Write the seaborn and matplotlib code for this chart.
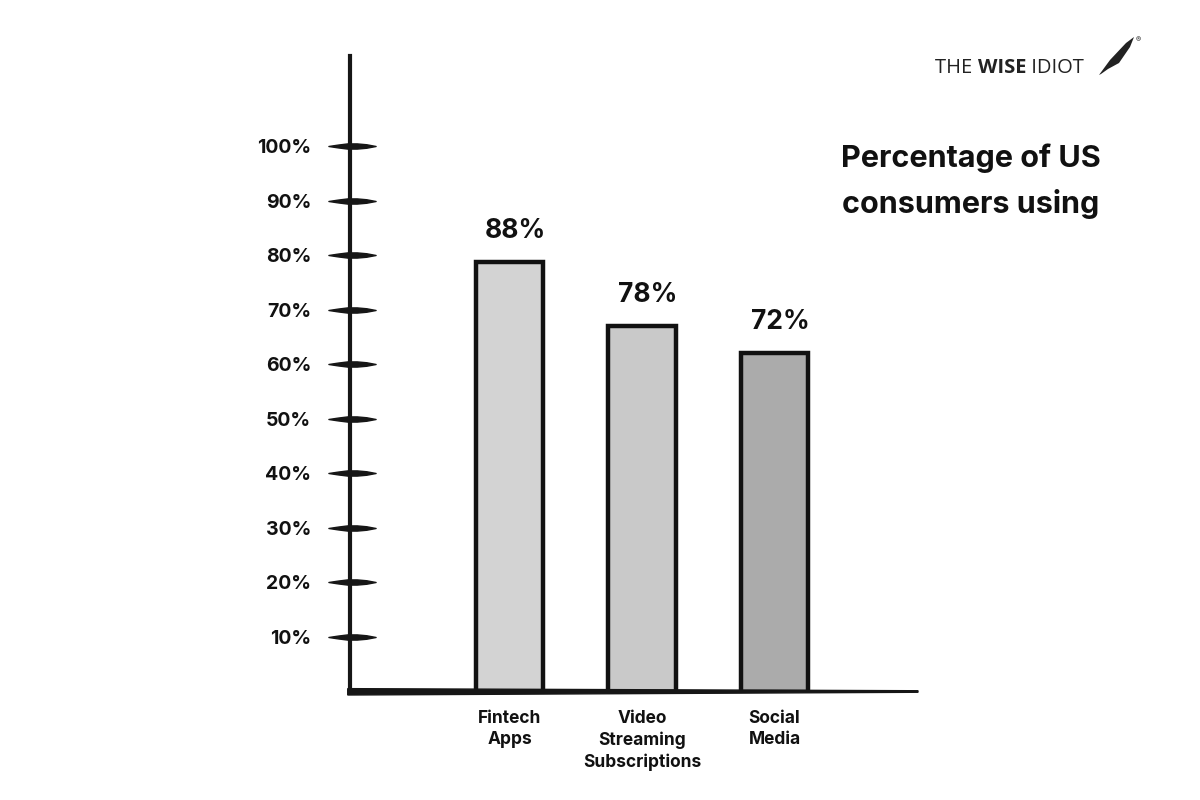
import numpy as np
import pandas as pd
import matplotlib
matplotlib.use("Agg")
import matplotlib.pyplot as plt
from matplotlib.path import Path
from matplotlib.patches import Polygon
import seaborn as sns

# ---- data ----
categories = ["Fintech\nApps", "Video\nStreaming\nSubscriptions", "Social\nMedia"]
bar_heights = [78.7, 67.0, 62.0]          # bar tops as drawn against the axis
value_labels = ["88%", "78%", "72%"]      # labels printed above the bars
bar_colors = ["#d3d3d3", "#c9c9c9", "#ababab"]
tick_values = [10, 20, 30, 40, 50, 60, 70, 80, 90, 100]
tick_labels = ["10%", "20%", "30%", "40%", "50%", "60%", "70%", "80%", "90%", "100%"]
title_text = "Percentage of US\nconsumers using"

sns.set_theme(style="white")
plt.rcParams["font.family"] = ["Inter", "DejaVu Sans"]

fig = plt.figure(figsize=(12, 8), dpi=100)
fig.patch.set_facecolor("white")
# axes: x from px 350 to 918, y 0% at px 691.5
ax = fig.add_axes([350 / 1200, 108.5 / 800, 568 / 1200, 635.5 / 800])
ax.set_facecolor("white")

df = pd.DataFrame({"cat": categories, "val": bar_heights})
sns.barplot(data=df, x="cat", y="val", hue="cat", palette=bar_colors,
            width=0.506, edgecolor="#111111", linewidth=3.2, legend=False,
            ax=ax, zorder=2)

ax.set_xlim(-1.204, 3.083)
ax.set_ylim(0, 116.5)
ax.set_xlabel("")
ax.set_ylabel("")

for sp in ["top", "right", "bottom"]:
    ax.spines[sp].set_visible(False)
ax.spines["left"].set_linewidth(3.0)
ax.spines["left"].set_color("#161616")

# tapered bottom axis line
ax.fill([-0.004, 1.0, 1.0, -0.004], [-0.0055, -0.0012, 0.0012, 0.0045],
        transform=ax.transAxes, color="#161616", clip_on=False, zorder=5)

# y ticks: labels only, spindle-shaped marks drawn as markers
ax.set_yticks(tick_values)
ax.set_yticklabels(tick_labels, fontsize=14, fontweight="bold", color="#111111")
ax.tick_params(axis="y", length=0, pad=28)
spindle = Path([(-1.0, 0.0), (-0.6, 0.06), (-0.2, 0.11), (0.2, 0.11), (0.6, 0.075),
                (1.0, 0.0), (0.6, -0.075), (0.2, -0.11), (-0.2, -0.11), (-0.6, -0.06),
                (-1.0, 0.0)], closed=True)
ax.plot([0.003] * len(tick_values), tick_values, linestyle="none", marker=spindle,
        markersize=34, color="#161616", transform=ax.get_yaxis_transform(),
        clip_on=False, zorder=6)

# x tick labels
ax.tick_params(axis="x", length=0, pad=13)
for lbl in ax.get_xticklabels():
    lbl.set_fontsize(12.5)
    lbl.set_fontweight("bold")
    lbl.set_color("#111111")
    lbl.set_linespacing(1.35)
    lbl.set_verticalalignment("top")

# value labels above bars
for i, (h, t) in enumerate(zip(bar_heights, value_labels)):
    ax.annotate(t, xy=(i, h), xytext=(4, 13), textcoords="offset points",
                ha="center", va="bottom", fontsize=19, fontweight="bold",
                color="#111111")

# title
fig.text(971 / 1200, 1 - 143 / 800, title_text, ha="center", va="top",
         fontsize=22, fontweight="bold", color="#111111", linespacing=1.68)

# logo
t1 = fig.text(935 / 1200, 1 - 73 / 800, "THE ", fontsize=14.5, color="#222222",
              va="baseline", ha="left", family=["Open Sans", "DejaVu Sans"])
a1 = ax.annotate("WISE", xy=(1, 0), xycoords=t1, va="bottom", ha="left",
                 fontsize=14.5, fontweight="bold", color="#222222",
                 family=["Open Sans", "DejaVu Sans"])
a2 = ax.annotate(" IDIOT", xy=(1, 0), xycoords=a1, va="bottom", ha="left",
                 fontsize=14.5, color="#222222", family=["Open Sans", "DejaVu Sans"])
# quill
quill = Polygon([[1099 / 1200, 1 - 75 / 800], [1110 / 1200, 1 - 60 / 800],
                 [1126 / 1200, 1 - 43 / 800], [1134 / 1200, 1 - 37 / 800],
                 [1130 / 1200, 1 - 47 / 800], [1119 / 1200, 1 - 63 / 800],
                 [1108 / 1200, 1 - 69 / 800], [1101 / 1200, 1 - 74 / 800]],
                closed=True, transform=fig.transFigure, facecolor="#222222",
                edgecolor="none")
fig.patches.append(quill)
fig.text(1138 / 1200, 1 - 40 / 800, "®", fontsize=5.5, color="#222222",
         ha="center", va="center")

fig.savefig("out.png", dpi=100, facecolor="white")
